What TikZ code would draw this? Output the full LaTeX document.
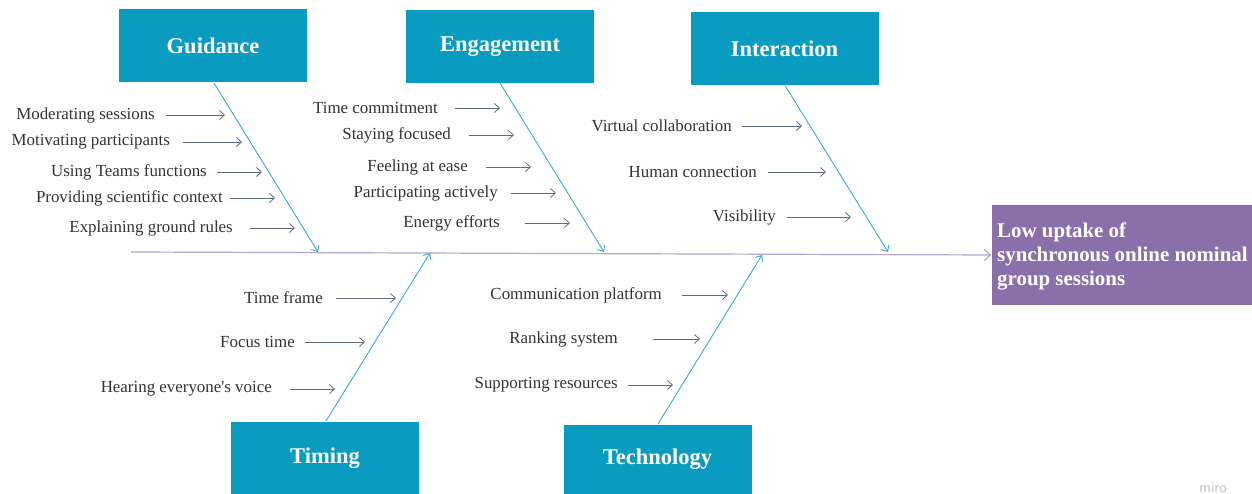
\documentclass[tikz,border=0pt]{standalone}
\usepackage{fontspec}
\setmainfont{Liberation Serif}[Ligatures=TeXOff]
\usetikzlibrary{arrows.meta}
\definecolor{boxteal}{HTML}{0A9BC1}
\definecolor{bonecol}{HTML}{3AAAC8}
\definecolor{spinecol}{HTML}{B3A6D0}
\definecolor{subcol}{HTML}{5E6A85}
\definecolor{effectcol}{HTML}{8A70AB}
\definecolor{txtcol}{HTML}{333333}
\tikzset{
  catbox/.style={fill=boxteal, text=white, font=\fontsize{22.5}{26}\selectfont\bfseries, inner sep=0pt},
  cause/.style={anchor=east, inner sep=0pt, text=txtcol, font=\fontsize{16.9}{19}\selectfont},
  subarrow/.style={draw=subcol, line width=0.8pt, -{Straight Barb[length=5pt,width=9pt]}},
  bone/.style={draw=bonecol, line width=0.9pt, -{Straight Barb[length=5pt,width=9pt]}},
  spine/.style={draw=spinecol, line width=1.2pt, -{Straight Barb[length=6pt,width=11pt]}},
}
\begin{document}
\begin{tikzpicture}[x=1pt, y=-1pt]
\useasboundingbox (0,0) rectangle (1252,494);
\fill[white] (0,0) rectangle (1252,494);

% category boxes
\node[catbox, minimum width=188pt, minimum height=73pt] (guid) at (213,46) {Guidance};
\node[catbox, minimum width=188pt, minimum height=73pt] (enga) at (500,47) {Engagement};
\node[catbox, minimum width=188pt, minimum height=73pt] (inte) at (784.5,49) {Interaction};
\node[catbox, minimum width=188pt, minimum height=73pt] (timi) at (325,458.5) {Timing};
\node[catbox, minimum width=188pt, minimum height=70pt] (tech) at (657.5,459.5) {Technology};

% effect box
\node[fill=effectcol, minimum width=261pt, minimum height=100pt, inner sep=0pt] (eff) at (1122,255) {};
\node[anchor=north west, inner sep=0pt, align=left, text=white,
      font=\fontsize{20.9}{24}\selectfont\bfseries] (efftxt) at (997,223)
  {Low uptake of\\synchronous online nominal\\group sessions};

% spine
\coordinate (tail) at (131,252);
\draw[spine] (tail) -- (eff.west);

% main bones, each running from a category box to the spine
\coordinate (gj) at (318,252);
\coordinate (ej) at (604,252);
\coordinate (ij) at (888,252);
\coordinate (tj) at (430,253);
\coordinate (hj) at (762,255);
\coordinate (gs) at (214,83);
\coordinate (es) at (500,83);
\coordinate (is) at (785,85.5);
\coordinate (ts) at (326,421);
\coordinate (hs) at (658,424);
\draw[bone] (gs) -- (gj);
\draw[bone] (es) -- (ej);
\draw[bone] (is) -- (ij);
\draw[bone] (ts) -- (tj);
\draw[bone] (hs) -- (hj);

% causes: Guidance
\node[cause] (g1) at (155,115) {Moderating sessions};
\node[cause] (g2) at (170,142) {Motivating participants};
\node[cause] (g3) at (207,172) {Using Teams functions};
\node[cause] (g4) at (223,198) {Providing scientific context};
\node[cause] (g5) at (233,228) {Explaining ground rules};
\draw[subarrow] (166,115) -- (225,115);
\draw[subarrow] (183,142) -- (242,142);
\draw[subarrow] (217,172) -- (262,172);
\draw[subarrow] (230,198) -- (275,198);
\draw[subarrow] (250,228) -- (295,228);

% causes: Engagement
\node[cause] (e1) at (438,108) {Time commitment};
\node[cause] (e2) at (451,135) {Staying focused};
\node[cause] (e3) at (468,167) {Feeling at ease};
\node[cause] (e4) at (498,193) {Participating actively};
\node[cause] (e5) at (500,223) {Energy efforts};
\draw[subarrow] (455,108) -- (500,108);
\draw[subarrow] (469,135) -- (514,135);
\draw[subarrow] (486,167) -- (531,167);
\draw[subarrow] (511,193) -- (556,193);
\draw[subarrow] (525,223) -- (570,223);

% causes: Interaction
\node[cause] (i1) at (732,126) {Virtual collaboration};
\node[cause] (i2) at (757,172) {Human connection};
\node[cause] (i3) at (776,217) {Visibility};
\draw[subarrow] (742,126) -- (802,126);
\draw[subarrow] (768,172) -- (826,172);
\draw[subarrow] (787,217) -- (851,217);

% causes: Timing
\node[cause] (t1) at (323,298) {Time frame};
\node[cause] (t2) at (295,342) {Focus time};
\node[cause] (t3) at (272,389) {Hearing everyone's voice};
\draw[subarrow] (336,298) -- (396,298);
\draw[subarrow] (305,342) -- (365,342);
\draw[subarrow] (290,389) -- (335,389);

% causes: Technology
\node[cause] (h1) at (662,295) {Communication platform};
\node[cause] (h2) at (618,339) {Ranking system};
\node[cause] (h3) at (618,385) {Supporting resources};
\draw[subarrow] (682,295) -- (728,295);
\draw[subarrow] (653,339) -- (700,339);
\draw[subarrow] (628,385) -- (673,385);

% watermark
\node[anchor=base east, inner sep=0pt, text=black!25, font=\sffamily\fontsize{15}{15}\selectfont] (mark) at (1227,492) {miro};
\end{tikzpicture}
\end{document}
